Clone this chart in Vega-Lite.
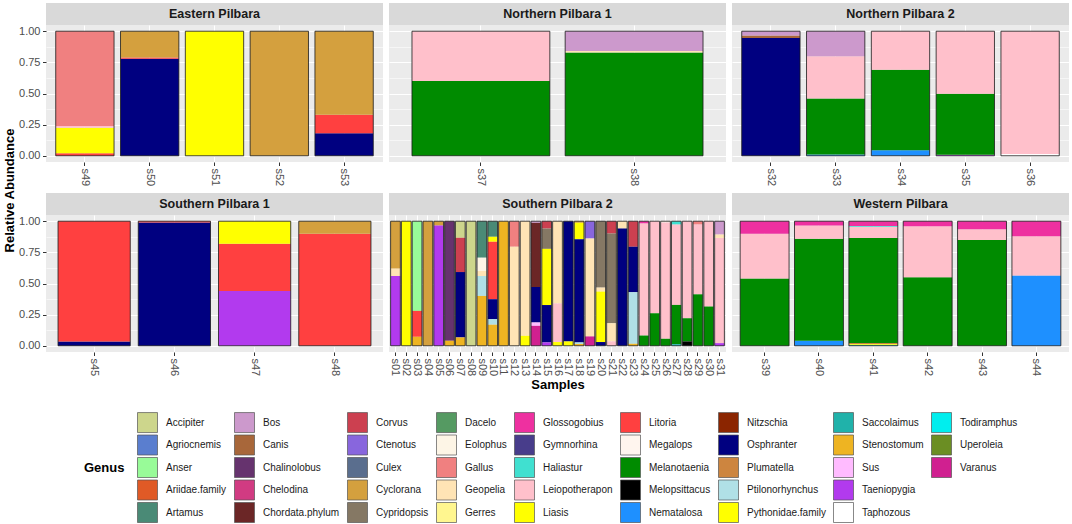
{
"$schema": "https://vega.github.io/schema/vega-lite/v6.json",
"background": "white",
"padding": {"left": 3, "top": 3, "right": 2, "bottom": 2},
"title": {"text": "Relative Abundance", "orient": "left", "anchor": "middle", "fontSize": 13, "fontWeight": "bold", "color": "#000000", "font": "Liberation Sans", "offset": 2, "dx": 73},
"datasets": {
"abund": [
{"region":"Eastern Pilbara","sample":"s49","genus":"Litoria","abundance":0.02},
{"region":"Eastern Pilbara","sample":"s49","genus":"Liasis","abundance":0.205},
{"region":"Eastern Pilbara","sample":"s49","genus":"Leiopotherapon","abundance":0.015},
{"region":"Eastern Pilbara","sample":"s49","genus":"Gallus","abundance":0.76},
{"region":"Eastern Pilbara","sample":"s50","genus":"Osphranter","abundance":0.78},
{"region":"Eastern Pilbara","sample":"s50","genus":"Litoria","abundance":0.01},
{"region":"Eastern Pilbara","sample":"s50","genus":"Cyclorana","abundance":0.21},
{"region":"Eastern Pilbara","sample":"s51","genus":"Liasis","abundance":1.0},
{"region":"Eastern Pilbara","sample":"s52","genus":"Cyclorana","abundance":1.0},
{"region":"Eastern Pilbara","sample":"s53","genus":"Osphranter","abundance":0.18},
{"region":"Eastern Pilbara","sample":"s53","genus":"Litoria","abundance":0.15},
{"region":"Eastern Pilbara","sample":"s53","genus":"Cyclorana","abundance":0.67},
{"region":"Northern Pilbara 1","sample":"s37","genus":"Melanotaenia","abundance":0.60},
{"region":"Northern Pilbara 1","sample":"s37","genus":"Leiopotherapon","abundance":0.40},
{"region":"Northern Pilbara 1","sample":"s38","genus":"Melanotaenia","abundance":0.83},
{"region":"Northern Pilbara 1","sample":"s38","genus":"Geopelia","abundance":0.012},
{"region":"Northern Pilbara 1","sample":"s38","genus":"Bos","abundance":0.158},
{"region":"Northern Pilbara 2","sample":"s32","genus":"Osphranter","abundance":0.945},
{"region":"Northern Pilbara 2","sample":"s32","genus":"Canis","abundance":0.02},
{"region":"Northern Pilbara 2","sample":"s32","genus":"Bos","abundance":0.035},
{"region":"Northern Pilbara 2","sample":"s33","genus":"Nematalosa","abundance":0.01},
{"region":"Northern Pilbara 2","sample":"s33","genus":"Melanotaenia","abundance":0.45},
{"region":"Northern Pilbara 2","sample":"s33","genus":"Leiopotherapon","abundance":0.34},
{"region":"Northern Pilbara 2","sample":"s33","genus":"Bos","abundance":0.20},
{"region":"Northern Pilbara 2","sample":"s34","genus":"Nematalosa","abundance":0.045},
{"region":"Northern Pilbara 2","sample":"s34","genus":"Melanotaenia","abundance":0.645},
{"region":"Northern Pilbara 2","sample":"s34","genus":"Leiopotherapon","abundance":0.31},
{"region":"Northern Pilbara 2","sample":"s35","genus":"Taeniopygia","abundance":0.008},
{"region":"Northern Pilbara 2","sample":"s35","genus":"Melanotaenia","abundance":0.49},
{"region":"Northern Pilbara 2","sample":"s35","genus":"Leiopotherapon","abundance":0.502},
{"region":"Northern Pilbara 2","sample":"s36","genus":"Taphozous","abundance":0.015},
{"region":"Northern Pilbara 2","sample":"s36","genus":"Leiopotherapon","abundance":0.985},
{"region":"Southern Pilbara 1","sample":"s45","genus":"Osphranter","abundance":0.035},
{"region":"Southern Pilbara 1","sample":"s45","genus":"Litoria","abundance":0.965},
{"region":"Southern Pilbara 1","sample":"s46","genus":"Osphranter","abundance":0.99},
{"region":"Southern Pilbara 1","sample":"s46","genus":"Litoria","abundance":0.01},
{"region":"Southern Pilbara 1","sample":"s47","genus":"Taeniopygia","abundance":0.44},
{"region":"Southern Pilbara 1","sample":"s47","genus":"Litoria","abundance":0.38},
{"region":"Southern Pilbara 1","sample":"s47","genus":"Liasis","abundance":0.18},
{"region":"Southern Pilbara 1","sample":"s48","genus":"Litoria","abundance":0.90},
{"region":"Southern Pilbara 1","sample":"s48","genus":"Cyclorana","abundance":0.10},
{"region":"Western Pilbara","sample":"s39","genus":"Melanotaenia","abundance":0.54},
{"region":"Western Pilbara","sample":"s39","genus":"Leiopotherapon","abundance":0.36},
{"region":"Western Pilbara","sample":"s39","genus":"Glossogobius","abundance":0.10},
{"region":"Western Pilbara","sample":"s40","genus":"Nematalosa","abundance":0.04},
{"region":"Western Pilbara","sample":"s40","genus":"Melanotaenia","abundance":0.82},
{"region":"Western Pilbara","sample":"s40","genus":"Leiopotherapon","abundance":0.105},
{"region":"Western Pilbara","sample":"s40","genus":"Glossogobius","abundance":0.035},
{"region":"Western Pilbara","sample":"s41","genus":"Saccolaimus","abundance":0.008},
{"region":"Western Pilbara","sample":"s41","genus":"Pythonidae.family","abundance":0.007},
{"region":"Western Pilbara","sample":"s41","genus":"Plumatella","abundance":0.008},
{"region":"Western Pilbara","sample":"s41","genus":"Melanotaenia","abundance":0.842},
{"region":"Western Pilbara","sample":"s41","genus":"Leiopotherapon","abundance":0.09},
{"region":"Western Pilbara","sample":"s41","genus":"Haliastur","abundance":0.007},
{"region":"Western Pilbara","sample":"s41","genus":"Glossogobius","abundance":0.038},
{"region":"Western Pilbara","sample":"s42","genus":"Melanotaenia","abundance":0.55},
{"region":"Western Pilbara","sample":"s42","genus":"Leiopotherapon","abundance":0.41},
{"region":"Western Pilbara","sample":"s42","genus":"Glossogobius","abundance":0.04},
{"region":"Western Pilbara","sample":"s43","genus":"Melanotaenia","abundance":0.85},
{"region":"Western Pilbara","sample":"s43","genus":"Leiopotherapon","abundance":0.085},
{"region":"Western Pilbara","sample":"s43","genus":"Glossogobius","abundance":0.065},
{"region":"Western Pilbara","sample":"s44","genus":"Nematalosa","abundance":0.565},
{"region":"Western Pilbara","sample":"s44","genus":"Leiopotherapon","abundance":0.315},
{"region":"Western Pilbara","sample":"s44","genus":"Glossogobius","abundance":0.12},
{"region":"Southern Pilbara 2","sample":"s01","genus":"Cyclorana","abundance":0.381},
{"region":"Southern Pilbara 2","sample":"s01","genus":"Geopelia","abundance":0.059},
{"region":"Southern Pilbara 2","sample":"s01","genus":"Taeniopygia","abundance":0.56},
{"region":"Southern Pilbara 2","sample":"s02","genus":"Liasis","abundance":1.0},
{"region":"Southern Pilbara 2","sample":"s03","genus":"Anser","abundance":0.72},
{"region":"Southern Pilbara 2","sample":"s03","genus":"Litoria","abundance":0.208},
{"region":"Southern Pilbara 2","sample":"s03","genus":"Stenostomum","abundance":0.072},
{"region":"Southern Pilbara 2","sample":"s04","genus":"Cyclorana","abundance":1.0},
{"region":"Southern Pilbara 2","sample":"s05","genus":"Cyclorana","abundance":0.035},
{"region":"Southern Pilbara 2","sample":"s05","genus":"Taeniopygia","abundance":0.965},
{"region":"Southern Pilbara 2","sample":"s06","genus":"Chalinolobus","abundance":0.96},
{"region":"Southern Pilbara 2","sample":"s06","genus":"Stenostomum","abundance":0.04},
{"region":"Southern Pilbara 2","sample":"s07","genus":"Accipiter","abundance":0.133},
{"region":"Southern Pilbara 2","sample":"s07","genus":"Corvus","abundance":0.275},
{"region":"Southern Pilbara 2","sample":"s07","genus":"Osphranter","abundance":0.525},
{"region":"Southern Pilbara 2","sample":"s07","genus":"Stenostomum","abundance":0.067},
{"region":"Southern Pilbara 2","sample":"s08","genus":"Accipiter","abundance":1.0},
{"region":"Southern Pilbara 2","sample":"s09","genus":"Artamus","abundance":0.293},
{"region":"Southern Pilbara 2","sample":"s09","genus":"Eolophus","abundance":0.107},
{"region":"Southern Pilbara 2","sample":"s09","genus":"Geopelia","abundance":0.04},
{"region":"Southern Pilbara 2","sample":"s09","genus":"Ptilonorhynchus","abundance":0.16},
{"region":"Southern Pilbara 2","sample":"s09","genus":"Stenostomum","abundance":0.40},
{"region":"Southern Pilbara 2","sample":"s10","genus":"Artamus","abundance":0.125},
{"region":"Southern Pilbara 2","sample":"s10","genus":"Liasis","abundance":0.04},
{"region":"Southern Pilbara 2","sample":"s10","genus":"Litoria","abundance":0.461},
{"region":"Southern Pilbara 2","sample":"s10","genus":"Osphranter","abundance":0.16},
{"region":"Southern Pilbara 2","sample":"s10","genus":"Ptilonorhynchus","abundance":0.045},
{"region":"Southern Pilbara 2","sample":"s10","genus":"Stenostomum","abundance":0.169},
{"region":"Southern Pilbara 2","sample":"s11","genus":"Stenostomum","abundance":1.0},
{"region":"Southern Pilbara 2","sample":"s12","genus":"Gallus","abundance":0.205},
{"region":"Southern Pilbara 2","sample":"s12","genus":"Geopelia","abundance":0.795},
{"region":"Southern Pilbara 2","sample":"s13","genus":"Geopelia","abundance":0.92},
{"region":"Southern Pilbara 2","sample":"s13","genus":"Liasis","abundance":0.08},
{"region":"Southern Pilbara 2","sample":"s14","genus":"Bos","abundance":0.013},
{"region":"Southern Pilbara 2","sample":"s14","genus":"Chordata.phylum","abundance":0.515},
{"region":"Southern Pilbara 2","sample":"s14","genus":"Osphranter","abundance":0.285},
{"region":"Southern Pilbara 2","sample":"s14","genus":"Sus","abundance":0.027},
{"region":"Southern Pilbara 2","sample":"s14","genus":"Varanus","abundance":0.16},
{"region":"Southern Pilbara 2","sample":"s15","genus":"Corvus","abundance":0.059},
{"region":"Southern Pilbara 2","sample":"s15","genus":"Cypridopsis","abundance":0.163},
{"region":"Southern Pilbara 2","sample":"s15","genus":"Liasis","abundance":0.451},
{"region":"Southern Pilbara 2","sample":"s15","genus":"Osphranter","abundance":0.30},
{"region":"Southern Pilbara 2","sample":"s15","genus":"Taeniopygia","abundance":0.027},
{"region":"Southern Pilbara 2","sample":"s16","genus":"Geopelia","abundance":0.66},
{"region":"Southern Pilbara 2","sample":"s16","genus":"Leiopotherapon","abundance":0.31},
{"region":"Southern Pilbara 2","sample":"s16","genus":"Liasis","abundance":0.03},
{"region":"Southern Pilbara 2","sample":"s17","genus":"Osphranter","abundance":0.965},
{"region":"Southern Pilbara 2","sample":"s17","genus":"Pythonidae.family","abundance":0.035},
{"region":"Southern Pilbara 2","sample":"s18","genus":"Cyclorana","abundance":0.013},
{"region":"Southern Pilbara 2","sample":"s18","genus":"Liasis","abundance":0.131},
{"region":"Southern Pilbara 2","sample":"s18","genus":"Osphranter","abundance":0.829},
{"region":"Southern Pilbara 2","sample":"s18","genus":"Ptilonorhynchus","abundance":0.013},
{"region":"Southern Pilbara 2","sample":"s18","genus":"Stenostomum","abundance":0.014},
{"region":"Southern Pilbara 2","sample":"s19","genus":"Ctenotus","abundance":0.139},
{"region":"Southern Pilbara 2","sample":"s19","genus":"Geopelia","abundance":0.786},
{"region":"Southern Pilbara 2","sample":"s19","genus":"Varanus","abundance":0.075},
{"region":"Southern Pilbara 2","sample":"s20","genus":"Cypridopsis","abundance":0.533},
{"region":"Southern Pilbara 2","sample":"s20","genus":"Geopelia","abundance":0.032},
{"region":"Southern Pilbara 2","sample":"s20","genus":"Liasis","abundance":0.405},
{"region":"Southern Pilbara 2","sample":"s20","genus":"Osphranter","abundance":0.03},
{"region":"Southern Pilbara 2","sample":"s21","genus":"Corvus","abundance":0.099},
{"region":"Southern Pilbara 2","sample":"s21","genus":"Cypridopsis","abundance":0.72},
{"region":"Southern Pilbara 2","sample":"s21","genus":"Geopelia","abundance":0.146},
{"region":"Southern Pilbara 2","sample":"s21","genus":"Leiopotherapon","abundance":0.035},
{"region":"Southern Pilbara 2","sample":"s22","genus":"Geopelia","abundance":0.059},
{"region":"Southern Pilbara 2","sample":"s22","genus":"Osphranter","abundance":0.941},
{"region":"Southern Pilbara 2","sample":"s23","genus":"Corvus","abundance":0.205},
{"region":"Southern Pilbara 2","sample":"s23","genus":"Osphranter","abundance":0.365},
{"region":"Southern Pilbara 2","sample":"s23","genus":"Ptilonorhynchus","abundance":0.414},
{"region":"Southern Pilbara 2","sample":"s23","genus":"Stenostomum","abundance":0.016},
{"region":"Southern Pilbara 2","sample":"s24","genus":"Glossogobius","abundance":0.019},
{"region":"Southern Pilbara 2","sample":"s24","genus":"Leiopotherapon","abundance":0.899},
{"region":"Southern Pilbara 2","sample":"s24","genus":"Melanotaenia","abundance":0.082},
{"region":"Southern Pilbara 2","sample":"s25","genus":"Leiopotherapon","abundance":0.739},
{"region":"Southern Pilbara 2","sample":"s25","genus":"Melanotaenia","abundance":0.261},
{"region":"Southern Pilbara 2","sample":"s26","genus":"Eolophus","abundance":0.01},
{"region":"Southern Pilbara 2","sample":"s26","genus":"Leiopotherapon","abundance":0.934},
{"region":"Southern Pilbara 2","sample":"s26","genus":"Melanotaenia","abundance":0.056},
{"region":"Southern Pilbara 2","sample":"s27","genus":"Haliastur","abundance":0.027},
{"region":"Southern Pilbara 2","sample":"s27","genus":"Leiopotherapon","abundance":0.645},
{"region":"Southern Pilbara 2","sample":"s27","genus":"Melanotaenia","abundance":0.315},
{"region":"Southern Pilbara 2","sample":"s27","genus":"Saccolaimus","abundance":0.013},
{"region":"Southern Pilbara 2","sample":"s28","genus":"Leiopotherapon","abundance":0.779},
{"region":"Southern Pilbara 2","sample":"s28","genus":"Melanotaenia","abundance":0.186},
{"region":"Southern Pilbara 2","sample":"s28","genus":"Melopsittacus","abundance":0.035},
{"region":"Southern Pilbara 2","sample":"s29","genus":"Gallus","abundance":0.027},
{"region":"Southern Pilbara 2","sample":"s29","genus":"Leiopotherapon","abundance":0.56},
{"region":"Southern Pilbara 2","sample":"s29","genus":"Melanotaenia","abundance":0.413},
{"region":"Southern Pilbara 2","sample":"s30","genus":"Leiopotherapon","abundance":0.685},
{"region":"Southern Pilbara 2","sample":"s30","genus":"Melanotaenia","abundance":0.315},
{"region":"Southern Pilbara 2","sample":"s31","genus":"Bos","abundance":0.107},
{"region":"Southern Pilbara 2","sample":"s31","genus":"Geopelia","abundance":0.027},
{"region":"Southern Pilbara 2","sample":"s31","genus":"Leiopotherapon","abundance":0.845},
{"region":"Southern Pilbara 2","sample":"s31","genus":"Taeniopygia","abundance":0.021}
]
},
"vconcat": [
{"hconcat": [
 {"vconcat": [
  {"width": 337, "height": 22, "data": {"values": [{"panel": "Eastern Pilbara"}]}, "mark": {"type": "text", "fontWeight": "bold", "fontSize": 12.5, "color": "#1A1A1A"}, "encoding": {"text": {"field": "panel"}}, "view": {"fill": "#D9D9D9", "stroke": null}},
  {"width": 337, "height": 137, "data": {"name": "abund"}, "transform": [{"filter": "datum.region === 'Eastern Pilbara'"}],
   "encoding": {"x": {"field": "sample", "type": "nominal", "scale": {"paddingInner": 0.1, "paddingOuter": 0.15}, "axis": {"title": null, "labelAngle": 90, "grid": true, "bandPosition": 0.5}}},
   "layer": [
    {"mark": {"type": "bar"}, "encoding": {
      "y": {"field": "abundance", "type": "quantitative", "stack": "zero", "scale": {"domain": [-0.05, 1.05], "nice": false}, "axis": {"values": [0, 0.25, 0.5, 0.75, 1], "format": ".2f", "title": null, "grid": true}},
      "color": {"field": "genus", "type": "nominal", "scale": {"domain": ["Accipiter","Bos","Corvus","Dacelo","Glossogobius","Litoria","Nitzschia","Saccolaimus","Todiramphus","Agriocnemis","Canis","Ctenotus","Eolophus","Gymnorhina","Megalops","Osphranter","Stenostomum","Uperoleia","Anser","Chalinolobus","Culex","Gallus","Haliastur","Melanotaenia","Plumatella","Sus","Varanus","Ariidae.family","Chelodina","Cyclorana","Geopelia","Leiopotherapon","Melopsittacus","Ptilonorhynchus","Taeniopygia"," ","Artamus","Chordata.phylum","Cypridopsis","Gerres","Liasis","Nematalosa","Pythonidae.family","Taphozous"], "range": ["#CDD68C","#CC99CC","#CC4050","#559A62","#EE30A0","#FF4040","#8B2500","#20B2AA","#00EEEE","#5A7ECF","#A8673A","#8866DD","#FDF5E6","#483D8B","#FFF5EE","#000080","#EEB422","#6B8E23","#98FB98","#66336E","#5A6E8E","#F08080","#40E0D0","#008B00","#CD853F","#FFBBFF","#D02090","#E05A26","#D13B82","#D4A03E","#FFE4B5","#FFC0CB","#000000","#B0E0E6","#B23AEE","transparent","#4A8A76","#6B2626","#857864","#FFF68F","#FFFF00","#1E90FF","#FFFF00","#FFFFFF"]}, "legend": {"title": "Genus", "encode": {"symbols": {"update": {"strokeOpacity": {"signal": "datum.value === ' ' ? 0 : 1"}}}}}},
      "order": {"field": "genus", "type": "nominal", "sort": "descending"}}},
    {"mark": {"type": "bar", "fill": "transparent", "stroke": "#1A1A1A", "strokeWidth": 0.8}, "encoding": {
      "y": {"aggregate": "sum", "field": "abundance", "type": "quantitative", "scale": {"domain": [-0.05, 1.05], "nice": false}, "axis": {"values": [0.125, 0.375, 0.625, 0.875], "title": null, "grid": true, "labels": false, "ticks": false, "gridWidth": 0.55, "orient": "right"}},
      "y2": {"datum": 0}}}
   ],
   "resolve": {"axis": {"y": "independent"}},
   "view": {"fill": "#EBEBEB", "stroke": null}}
 ], "spacing": 0, "bounds": "flush"},
 {"vconcat": [
  {"width": 337, "height": 22, "data": {"values": [{"panel": "Northern Pilbara 1"}]}, "mark": {"type": "text", "fontWeight": "bold", "fontSize": 12.5, "color": "#1A1A1A"}, "encoding": {"text": {"field": "panel"}}, "view": {"fill": "#D9D9D9", "stroke": null}},
  {"width": 337, "height": 137, "data": {"name": "abund"}, "transform": [{"filter": "datum.region === 'Northern Pilbara 1'"}],
   "encoding": {"x": {"field": "sample", "type": "nominal", "scale": {"paddingInner": 0.1, "paddingOuter": 0.15}, "axis": {"title": null, "labelAngle": 90, "grid": true, "bandPosition": 0.5}}},
   "layer": [
    {"mark": {"type": "bar"}, "encoding": {
      "y": {"field": "abundance", "type": "quantitative", "stack": "zero", "scale": {"domain": [-0.05, 1.05], "nice": false}, "axis": {"values": [0, 0.25, 0.5, 0.75, 1], "title": null, "grid": true, "labels": false, "ticks": false}},
      "color": {"field": "genus", "type": "nominal", "scale": {"domain": ["Accipiter","Bos","Corvus","Dacelo","Glossogobius","Litoria","Nitzschia","Saccolaimus","Todiramphus","Agriocnemis","Canis","Ctenotus","Eolophus","Gymnorhina","Megalops","Osphranter","Stenostomum","Uperoleia","Anser","Chalinolobus","Culex","Gallus","Haliastur","Melanotaenia","Plumatella","Sus","Varanus","Ariidae.family","Chelodina","Cyclorana","Geopelia","Leiopotherapon","Melopsittacus","Ptilonorhynchus","Taeniopygia"," ","Artamus","Chordata.phylum","Cypridopsis","Gerres","Liasis","Nematalosa","Pythonidae.family","Taphozous"], "range": ["#CDD68C","#CC99CC","#CC4050","#559A62","#EE30A0","#FF4040","#8B2500","#20B2AA","#00EEEE","#5A7ECF","#A8673A","#8866DD","#FDF5E6","#483D8B","#FFF5EE","#000080","#EEB422","#6B8E23","#98FB98","#66336E","#5A6E8E","#F08080","#40E0D0","#008B00","#CD853F","#FFBBFF","#D02090","#E05A26","#D13B82","#D4A03E","#FFE4B5","#FFC0CB","#000000","#B0E0E6","#B23AEE","transparent","#4A8A76","#6B2626","#857864","#FFF68F","#FFFF00","#1E90FF","#FFFF00","#FFFFFF"]}, "legend": {"title": "Genus", "encode": {"symbols": {"update": {"strokeOpacity": {"signal": "datum.value === ' ' ? 0 : 1"}}}}}},
      "order": {"field": "genus", "type": "nominal", "sort": "descending"}}},
    {"mark": {"type": "bar", "fill": "transparent", "stroke": "#1A1A1A", "strokeWidth": 0.8}, "encoding": {
      "y": {"aggregate": "sum", "field": "abundance", "type": "quantitative", "scale": {"domain": [-0.05, 1.05], "nice": false}, "axis": {"values": [0.125, 0.375, 0.625, 0.875], "title": null, "grid": true, "labels": false, "ticks": false, "gridWidth": 0.55, "orient": "right"}},
      "y2": {"datum": 0}}}
   ],
   "resolve": {"axis": {"y": "independent"}},
   "view": {"fill": "#EBEBEB", "stroke": null}}
 ], "spacing": 0, "bounds": "flush"},
 {"vconcat": [
  {"width": 337, "height": 22, "data": {"values": [{"panel": "Northern Pilbara 2"}]}, "mark": {"type": "text", "fontWeight": "bold", "fontSize": 12.5, "color": "#1A1A1A"}, "encoding": {"text": {"field": "panel"}}, "view": {"fill": "#D9D9D9", "stroke": null}},
  {"width": 337, "height": 137, "data": {"name": "abund"}, "transform": [{"filter": "datum.region === 'Northern Pilbara 2'"}],
   "encoding": {"x": {"field": "sample", "type": "nominal", "scale": {"paddingInner": 0.1, "paddingOuter": 0.15}, "axis": {"title": null, "labelAngle": 90, "grid": true, "bandPosition": 0.5}}},
   "layer": [
    {"mark": {"type": "bar"}, "encoding": {
      "y": {"field": "abundance", "type": "quantitative", "stack": "zero", "scale": {"domain": [-0.05, 1.05], "nice": false}, "axis": {"values": [0, 0.25, 0.5, 0.75, 1], "title": null, "grid": true, "labels": false, "ticks": false}},
      "color": {"field": "genus", "type": "nominal", "scale": {"domain": ["Accipiter","Bos","Corvus","Dacelo","Glossogobius","Litoria","Nitzschia","Saccolaimus","Todiramphus","Agriocnemis","Canis","Ctenotus","Eolophus","Gymnorhina","Megalops","Osphranter","Stenostomum","Uperoleia","Anser","Chalinolobus","Culex","Gallus","Haliastur","Melanotaenia","Plumatella","Sus","Varanus","Ariidae.family","Chelodina","Cyclorana","Geopelia","Leiopotherapon","Melopsittacus","Ptilonorhynchus","Taeniopygia"," ","Artamus","Chordata.phylum","Cypridopsis","Gerres","Liasis","Nematalosa","Pythonidae.family","Taphozous"], "range": ["#CDD68C","#CC99CC","#CC4050","#559A62","#EE30A0","#FF4040","#8B2500","#20B2AA","#00EEEE","#5A7ECF","#A8673A","#8866DD","#FDF5E6","#483D8B","#FFF5EE","#000080","#EEB422","#6B8E23","#98FB98","#66336E","#5A6E8E","#F08080","#40E0D0","#008B00","#CD853F","#FFBBFF","#D02090","#E05A26","#D13B82","#D4A03E","#FFE4B5","#FFC0CB","#000000","#B0E0E6","#B23AEE","transparent","#4A8A76","#6B2626","#857864","#FFF68F","#FFFF00","#1E90FF","#FFFF00","#FFFFFF"]}, "legend": {"title": "Genus", "encode": {"symbols": {"update": {"strokeOpacity": {"signal": "datum.value === ' ' ? 0 : 1"}}}}}},
      "order": {"field": "genus", "type": "nominal", "sort": "descending"}}},
    {"mark": {"type": "bar", "fill": "transparent", "stroke": "#1A1A1A", "strokeWidth": 0.8}, "encoding": {
      "y": {"aggregate": "sum", "field": "abundance", "type": "quantitative", "scale": {"domain": [-0.05, 1.05], "nice": false}, "axis": {"values": [0.125, 0.375, 0.625, 0.875], "title": null, "grid": true, "labels": false, "ticks": false, "gridWidth": 0.55, "orient": "right"}},
      "y2": {"datum": 0}}}
   ],
   "resolve": {"axis": {"y": "independent"}},
   "view": {"fill": "#EBEBEB", "stroke": null}}
 ], "spacing": 0, "bounds": "flush"}
], "spacing": 6},
{"hconcat": [
 {"vconcat": [
  {"width": 337, "height": 22, "data": {"values": [{"panel": "Southern Pilbara 1"}]}, "mark": {"type": "text", "fontWeight": "bold", "fontSize": 12.5, "color": "#1A1A1A"}, "encoding": {"text": {"field": "panel"}}, "view": {"fill": "#D9D9D9", "stroke": null}},
  {"width": 337, "height": 137, "data": {"name": "abund"}, "transform": [{"filter": "datum.region === 'Southern Pilbara 1'"}],
   "encoding": {"x": {"field": "sample", "type": "nominal", "scale": {"paddingInner": 0.1, "paddingOuter": 0.15}, "axis": {"title": null, "labelAngle": 90, "grid": true, "bandPosition": 0.5}}},
   "layer": [
    {"mark": {"type": "bar"}, "encoding": {
      "y": {"field": "abundance", "type": "quantitative", "stack": "zero", "scale": {"domain": [-0.05, 1.05], "nice": false}, "axis": {"values": [0, 0.25, 0.5, 0.75, 1], "format": ".2f", "title": null, "grid": true}},
      "color": {"field": "genus", "type": "nominal", "scale": {"domain": ["Accipiter","Bos","Corvus","Dacelo","Glossogobius","Litoria","Nitzschia","Saccolaimus","Todiramphus","Agriocnemis","Canis","Ctenotus","Eolophus","Gymnorhina","Megalops","Osphranter","Stenostomum","Uperoleia","Anser","Chalinolobus","Culex","Gallus","Haliastur","Melanotaenia","Plumatella","Sus","Varanus","Ariidae.family","Chelodina","Cyclorana","Geopelia","Leiopotherapon","Melopsittacus","Ptilonorhynchus","Taeniopygia"," ","Artamus","Chordata.phylum","Cypridopsis","Gerres","Liasis","Nematalosa","Pythonidae.family","Taphozous"], "range": ["#CDD68C","#CC99CC","#CC4050","#559A62","#EE30A0","#FF4040","#8B2500","#20B2AA","#00EEEE","#5A7ECF","#A8673A","#8866DD","#FDF5E6","#483D8B","#FFF5EE","#000080","#EEB422","#6B8E23","#98FB98","#66336E","#5A6E8E","#F08080","#40E0D0","#008B00","#CD853F","#FFBBFF","#D02090","#E05A26","#D13B82","#D4A03E","#FFE4B5","#FFC0CB","#000000","#B0E0E6","#B23AEE","transparent","#4A8A76","#6B2626","#857864","#FFF68F","#FFFF00","#1E90FF","#FFFF00","#FFFFFF"]}, "legend": {"title": "Genus", "encode": {"symbols": {"update": {"strokeOpacity": {"signal": "datum.value === ' ' ? 0 : 1"}}}}}},
      "order": {"field": "genus", "type": "nominal", "sort": "descending"}}},
    {"mark": {"type": "bar", "fill": "transparent", "stroke": "#1A1A1A", "strokeWidth": 0.8}, "encoding": {
      "y": {"aggregate": "sum", "field": "abundance", "type": "quantitative", "scale": {"domain": [-0.05, 1.05], "nice": false}, "axis": {"values": [0.125, 0.375, 0.625, 0.875], "title": null, "grid": true, "labels": false, "ticks": false, "gridWidth": 0.55, "orient": "right"}},
      "y2": {"datum": 0}}}
   ],
   "resolve": {"axis": {"y": "independent"}},
   "view": {"fill": "#EBEBEB", "stroke": null}}
 ], "spacing": 0, "bounds": "flush"},
 {"vconcat": [
  {"width": 337, "height": 22, "data": {"values": [{"panel": "Southern Pilbara 2"}]}, "mark": {"type": "text", "fontWeight": "bold", "fontSize": 12.5, "color": "#1A1A1A"}, "encoding": {"text": {"field": "panel"}}, "view": {"fill": "#D9D9D9", "stroke": null}},
  {"width": 337, "height": 137, "data": {"name": "abund"}, "transform": [{"filter": "datum.region === 'Southern Pilbara 2'"}],
   "encoding": {"x": {"field": "sample", "type": "nominal", "scale": {"paddingInner": 0.1, "paddingOuter": 0.15}, "axis": {"title": "Samples", "titleFontSize": 13, "titleFontWeight": "bold", "titleColor": "#000000", "titlePadding": 3, "labelAngle": 90, "grid": true, "bandPosition": 0.5}}},
   "layer": [
    {"mark": {"type": "bar"}, "encoding": {
      "y": {"field": "abundance", "type": "quantitative", "stack": "zero", "scale": {"domain": [-0.05, 1.05], "nice": false}, "axis": {"values": [0, 0.25, 0.5, 0.75, 1], "title": null, "grid": true, "labels": false, "ticks": false}},
      "color": {"field": "genus", "type": "nominal", "scale": {"domain": ["Accipiter","Bos","Corvus","Dacelo","Glossogobius","Litoria","Nitzschia","Saccolaimus","Todiramphus","Agriocnemis","Canis","Ctenotus","Eolophus","Gymnorhina","Megalops","Osphranter","Stenostomum","Uperoleia","Anser","Chalinolobus","Culex","Gallus","Haliastur","Melanotaenia","Plumatella","Sus","Varanus","Ariidae.family","Chelodina","Cyclorana","Geopelia","Leiopotherapon","Melopsittacus","Ptilonorhynchus","Taeniopygia"," ","Artamus","Chordata.phylum","Cypridopsis","Gerres","Liasis","Nematalosa","Pythonidae.family","Taphozous"], "range": ["#CDD68C","#CC99CC","#CC4050","#559A62","#EE30A0","#FF4040","#8B2500","#20B2AA","#00EEEE","#5A7ECF","#A8673A","#8866DD","#FDF5E6","#483D8B","#FFF5EE","#000080","#EEB422","#6B8E23","#98FB98","#66336E","#5A6E8E","#F08080","#40E0D0","#008B00","#CD853F","#FFBBFF","#D02090","#E05A26","#D13B82","#D4A03E","#FFE4B5","#FFC0CB","#000000","#B0E0E6","#B23AEE","transparent","#4A8A76","#6B2626","#857864","#FFF68F","#FFFF00","#1E90FF","#FFFF00","#FFFFFF"]}, "legend": {"title": "Genus", "encode": {"symbols": {"update": {"strokeOpacity": {"signal": "datum.value === ' ' ? 0 : 1"}}}}}},
      "order": {"field": "genus", "type": "nominal", "sort": "descending"}}},
    {"mark": {"type": "bar", "fill": "transparent", "stroke": "#1A1A1A", "strokeWidth": 0.8}, "encoding": {
      "y": {"aggregate": "sum", "field": "abundance", "type": "quantitative", "scale": {"domain": [-0.05, 1.05], "nice": false}, "axis": {"values": [0.125, 0.375, 0.625, 0.875], "title": null, "grid": true, "labels": false, "ticks": false, "gridWidth": 0.55, "orient": "right"}},
      "y2": {"datum": 0}}}
   ],
   "resolve": {"axis": {"y": "independent"}},
   "view": {"fill": "#EBEBEB", "stroke": null}}
 ], "spacing": 0, "bounds": "flush"},
 {"vconcat": [
  {"width": 337, "height": 22, "data": {"values": [{"panel": "Western Pilbara"}]}, "mark": {"type": "text", "fontWeight": "bold", "fontSize": 12.5, "color": "#1A1A1A"}, "encoding": {"text": {"field": "panel"}}, "view": {"fill": "#D9D9D9", "stroke": null}},
  {"width": 337, "height": 137, "data": {"name": "abund"}, "transform": [{"filter": "datum.region === 'Western Pilbara'"}],
   "encoding": {"x": {"field": "sample", "type": "nominal", "scale": {"paddingInner": 0.1, "paddingOuter": 0.15}, "axis": {"title": null, "labelAngle": 90, "grid": true, "bandPosition": 0.5}}},
   "layer": [
    {"mark": {"type": "bar"}, "encoding": {
      "y": {"field": "abundance", "type": "quantitative", "stack": "zero", "scale": {"domain": [-0.05, 1.05], "nice": false}, "axis": {"values": [0, 0.25, 0.5, 0.75, 1], "title": null, "grid": true, "labels": false, "ticks": false}},
      "color": {"field": "genus", "type": "nominal", "scale": {"domain": ["Accipiter","Bos","Corvus","Dacelo","Glossogobius","Litoria","Nitzschia","Saccolaimus","Todiramphus","Agriocnemis","Canis","Ctenotus","Eolophus","Gymnorhina","Megalops","Osphranter","Stenostomum","Uperoleia","Anser","Chalinolobus","Culex","Gallus","Haliastur","Melanotaenia","Plumatella","Sus","Varanus","Ariidae.family","Chelodina","Cyclorana","Geopelia","Leiopotherapon","Melopsittacus","Ptilonorhynchus","Taeniopygia"," ","Artamus","Chordata.phylum","Cypridopsis","Gerres","Liasis","Nematalosa","Pythonidae.family","Taphozous"], "range": ["#CDD68C","#CC99CC","#CC4050","#559A62","#EE30A0","#FF4040","#8B2500","#20B2AA","#00EEEE","#5A7ECF","#A8673A","#8866DD","#FDF5E6","#483D8B","#FFF5EE","#000080","#EEB422","#6B8E23","#98FB98","#66336E","#5A6E8E","#F08080","#40E0D0","#008B00","#CD853F","#FFBBFF","#D02090","#E05A26","#D13B82","#D4A03E","#FFE4B5","#FFC0CB","#000000","#B0E0E6","#B23AEE","transparent","#4A8A76","#6B2626","#857864","#FFF68F","#FFFF00","#1E90FF","#FFFF00","#FFFFFF"]}, "legend": {"title": "Genus", "encode": {"symbols": {"update": {"strokeOpacity": {"signal": "datum.value === ' ' ? 0 : 1"}}}}}},
      "order": {"field": "genus", "type": "nominal", "sort": "descending"}}},
    {"mark": {"type": "bar", "fill": "transparent", "stroke": "#1A1A1A", "strokeWidth": 0.8}, "encoding": {
      "y": {"aggregate": "sum", "field": "abundance", "type": "quantitative", "scale": {"domain": [-0.05, 1.05], "nice": false}, "axis": {"values": [0.125, 0.375, 0.625, 0.875], "title": null, "grid": true, "labels": false, "ticks": false, "gridWidth": 0.55, "orient": "right"}},
      "y2": {"datum": 0}}}
   ],
   "resolve": {"axis": {"y": "independent"}},
   "view": {"fill": "#EBEBEB", "stroke": null}}
 ], "spacing": 0, "bounds": "flush"}
], "spacing": 6}
],
"spacing": 7,
"config": {
 "font": "Liberation Sans",
 "view": {"stroke": null},
 "axis": {"labelFont": "Liberation Sans", "titleFont": "Liberation Sans", "labelFontSize": 11, "labelColor": "#4D4D4D", "tickColor": "#333333", "tickSize": 3.5, "domain": false, "gridColor": "#FFFFFF", "gridWidth": 1.1, "labelPadding": 2.5},
 "legend": {"orient": "none", "legendX": 38, "legendY": 409, "direction": "horizontal", "columns": 9, "symbolLimit": 60, "gridAlign": "each", "symbolType": "square", "symbolSize": 400, "symbolStrokeColor": "#555555", "symbolStrokeWidth": 0.7, "labelFontSize": 10, "labelColor": "#1A1A1A", "labelFont": "Liberation Sans", "titleFont": "Liberation Sans", "titleFontSize": 13, "titleFontWeight": "bold", "titleColor": "#000000", "rowPadding": -0.5, "columnPadding": 6, "labelOffset": 8, "titleOrient": "left", "titleAnchor": "middle", "titlePadding": 12}
}
}
